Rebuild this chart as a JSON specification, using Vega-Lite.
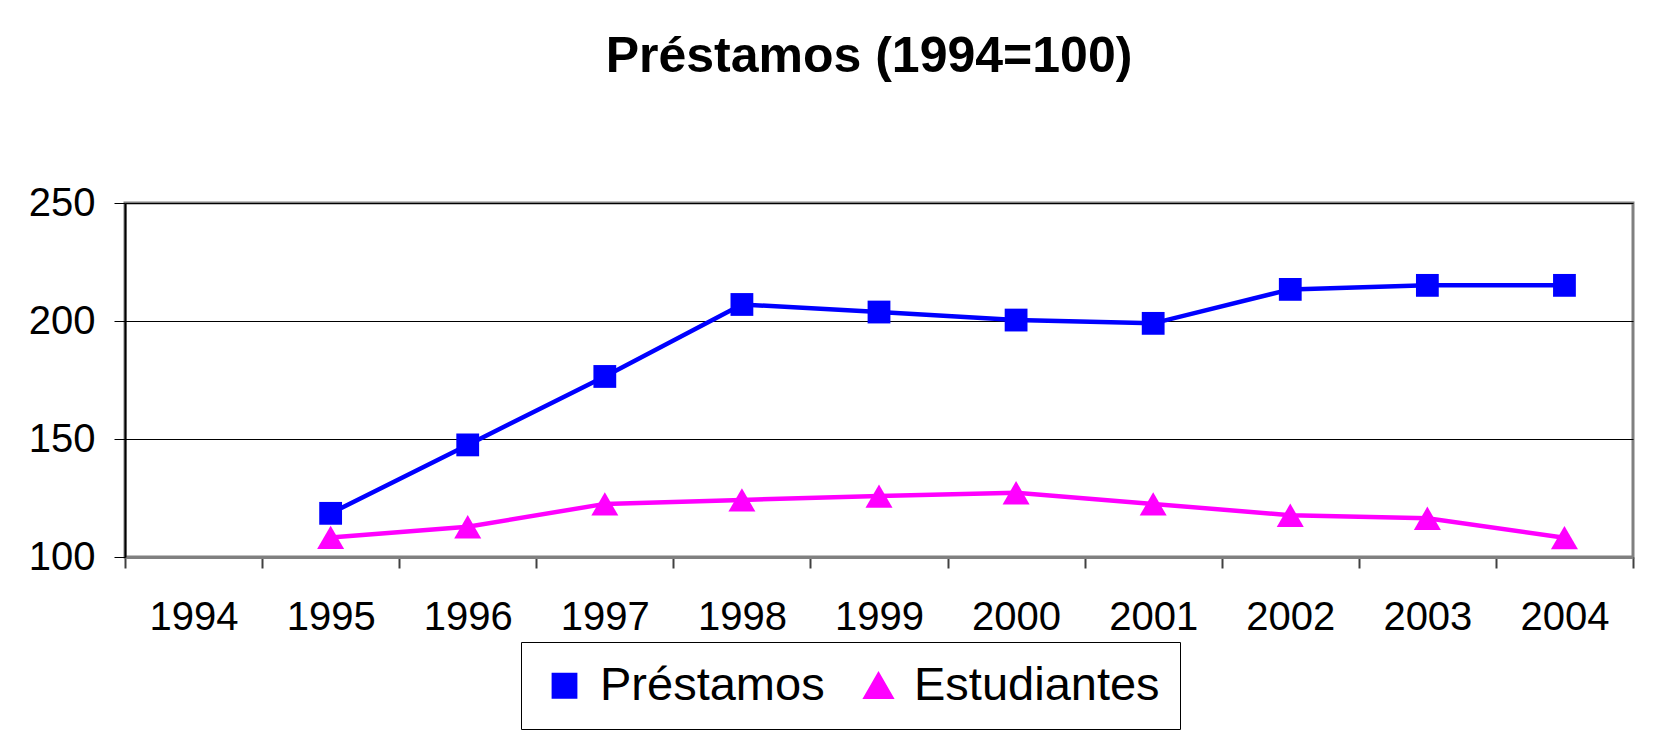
{
  "$schema": "https://vega.github.io/schema/vega-lite/v6.json",
  "width": 1508,
  "height": 354,
  "autosize": {"type": "none"},
  "padding": {"left": 125, "top": 203, "right": 44, "bottom": 177},
  "background": "white",
  "config": {
    "font": "Liberation Sans",
    "view": {"stroke": "#808080", "strokeWidth": 3}
  },
  "title": {
    "text": "Préstamos (1994=100)",
    "fontSize": 50,
    "fontWeight": "bold",
    "font": "Liberation Sans",
    "color": "black",
    "anchor": "middle",
    "baseline": "alphabetic",
    "offset": 61,
    "dx": -10
  },
  "data": {
    "values": [
      {"year": "1995", "series": "Préstamos", "value": 118.5},
      {"year": "1996", "series": "Préstamos", "value": 147.5},
      {"year": "1997", "series": "Préstamos", "value": 176.5},
      {"year": "1998", "series": "Préstamos", "value": 207.0},
      {"year": "1999", "series": "Préstamos", "value": 203.8},
      {"year": "2000", "series": "Préstamos", "value": 200.4},
      {"year": "2001", "series": "Préstamos", "value": 199.0},
      {"year": "2002", "series": "Préstamos", "value": 213.4},
      {"year": "2003", "series": "Préstamos", "value": 215.1},
      {"year": "2004", "series": "Préstamos", "value": 215.1},
      {"year": "1995", "series": "Estudiantes", "value": 108.3},
      {"year": "1996", "series": "Estudiantes", "value": 112.8},
      {"year": "1997", "series": "Estudiantes", "value": 122.5},
      {"year": "1998", "series": "Estudiantes", "value": 124.2},
      {"year": "1999", "series": "Estudiantes", "value": 125.8},
      {"year": "2000", "series": "Estudiantes", "value": 127.2},
      {"year": "2001", "series": "Estudiantes", "value": 122.5},
      {"year": "2002", "series": "Estudiantes", "value": 117.7},
      {"year": "2003", "series": "Estudiantes", "value": 116.4},
      {"year": "2004", "series": "Estudiantes", "value": 108.2}
    ]
  },
  "encoding": {
    "x": {
      "field": "year",
      "type": "ordinal",
      "scale": {
        "type": "band",
        "domain": ["1994", "1995", "1996", "1997", "1998", "1999", "2000", "2001", "2002", "2003", "2004"],
        "paddingInner": 0,
        "paddingOuter": 0
      },
      "axis": {
        "title": null,
        "labelAngle": 0,
        "labelFontSize": 40,
        "labelColor": "black",
        "labelPadding": 29,
        "tickBand": "extent",
        "tickSize": 11,
        "tickColor": "#404040",
        "tickWidth": 2,
        "domainColor": "#808080",
        "domainWidth": 3,
        "grid": false
      }
    },
    "y": {
      "field": "value",
      "type": "quantitative",
      "scale": {"domain": [100, 250], "nice": false, "zero": false},
      "axis": {
        "title": null,
        "values": [100, 150, 200, 250],
        "labelFontSize": 40,
        "labelColor": "black",
        "labelPadding": 19,
        "tickSize": 11,
        "tickColor": "black",
        "tickWidth": 1,
        "domainColor": "black",
        "domainWidth": 2,
        "grid": true,
        "gridColor": "black",
        "gridWidth": 1,
        "gridOpacity": 1
      }
    },
    "color": {
      "field": "series",
      "type": "nominal",
      "scale": {"domain": ["Préstamos", "Estudiantes"], "range": ["#0000ff", "#ff00ff"]},
      "legend": {
        "title": null,
        "orient": "none",
        "legendX": 396,
        "legendY": 439,
        "direction": "horizontal",
        "columns": 2,
        "columnPadding": 30,
        "padding": 20,
        "strokeColor": "black",
        "fillColor": "white",
        "labelFontSize": 47,
        "labelFont": "Liberation Sans",
        "labelColor": "black",
        "labelOffset": 12,
        "labelLimit": 500,
        "symbolSize": 11236,
        "symbolStrokeWidth": 3,
        "symbolOpacity": 1,
        "encode": {
          "symbols": {
            "update": {
              "shape": {"signal": "datum.value === 'Préstamos' ? 'M-1,0H1M-0.19,-0.19H0.19V0.19H-0.19Z' : 'M-1,0H1M0,-0.24L0.24,0.22H-0.24Z'"},
              "fill": {"signal": "datum.value === 'Préstamos' ? '#0000ff' : '#ff00ff'"},
              "stroke": {"signal": "datum.value === 'Préstamos' ? '#0000ff' : '#ff00ff'"},
              "strokeWidth": {"value": 3},
              "strokeOpacity": {"value": 1},
              "opacity": {"value": 1},
              "fillOpacity": {"value": 1}
            }
          }
        }
      }
    }
  },
  "layer": [
    {
      "mark": {"type": "line", "strokeWidth": 4.5}
    },
    {
      "mark": {"type": "point", "filled": true, "opacity": 1},
      "encoding": {
        "shape": {
          "field": "series",
          "type": "nominal",
          "scale": {"domain": ["Préstamos", "Estudiantes"], "range": ["square", "triangle-up"]},
          "legend": null
        },
        "size": {
          "field": "series",
          "type": "ordinal",
          "scale": {"domain": ["Préstamos", "Estudiantes"], "range": [520, 730]},
          "legend": null
        }
      }
    }
  ]
}
